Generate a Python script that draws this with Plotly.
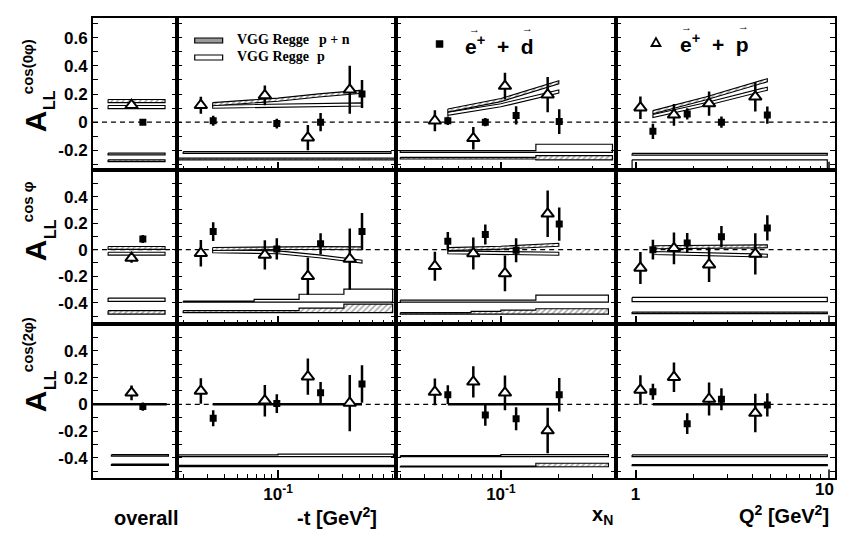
import plotly.graph_objects as go
from plotly.subplots import make_subplots

# ---------------- kinematic bin centres ----------------
t_p = [0.027, 0.080, 0.166, 0.338]      # -t [GeV^2], proton (open triangles)
t_d = [0.0333, 0.098, 0.206, 0.416]     # -t [GeV^2], deuteron (filled squares)
xn_p = [0.0454, 0.0719, 0.105, 0.175]
xn_d = [0.053, 0.083, 0.120, 0.201]
q2_p = [1.06, 1.58, 2.40, 4.16]
q2_d = [1.23, 1.85, 2.78, 4.80]

# ---------------- A_LL^cos(0phi) ----------------
c0_all_p, c0_all_p_err = 0.12, 0.02
c0_all_d, c0_all_d_err = 0.00, 0.015
c0_t_p = [0.12, 0.19, -0.11, 0.23]
c0_t_p_err = [0.06, 0.07, 0.09, 0.17]
c0_t_d = [0.01, -0.01, 0.00, 0.20]
c0_t_d_err = [0.035, 0.035, 0.065, 0.10]
c0_xn_p = [0.01, -0.115, 0.256, 0.195]
c0_xn_p_err = [0.075, 0.08, 0.095, 0.125]
c0_xn_d = [0.01, 0.0, 0.048, 0.004]
c0_xn_d_err = [0.03, 0.03, 0.065, 0.088]
c0_q2_p = [0.103, 0.052, 0.132, 0.18]
c0_q2_p_err = [0.08, 0.077, 0.086, 0.105]
c0_q2_d = [-0.065, 0.058, 0.0, 0.05]
c0_q2_d_err = [0.054, 0.04, 0.04, 0.062]

# ---------------- A_LL^cos(phi) ----------------
c1_all_p, c1_all_p_err = -0.063, 0.035
c1_all_d, c1_all_d_err = 0.08, 0.03
c1_t_p = [-0.027, -0.04, -0.20, -0.07]
c1_t_p_err = [0.10, 0.11, 0.14, 0.23]
c1_t_d = [0.136, 0.005, 0.044, 0.137]
c1_t_d_err = [0.07, 0.08, 0.08, 0.14]
c1_xn_p = [-0.125, -0.029, -0.179, 0.27]
c1_xn_p_err = [0.11, 0.12, 0.135, 0.175]
c1_xn_d = [0.063, 0.114, -0.004, 0.193]
c1_xn_d_err = [0.07, 0.075, 0.09, 0.125]
c1_q2_p = [-0.138, 0.01, -0.113, -0.032]
c1_q2_p_err = [0.12, 0.12, 0.13, 0.155]
c1_q2_d = [0.0, 0.051, 0.098, 0.164]
c1_q2_d_err = [0.075, 0.075, 0.08, 0.095]

# ---------------- A_LL^cos(2phi) ----------------
c2_all_p, c2_all_p_err = 0.086, 0.055
c2_all_d, c2_all_d_err = -0.017, 0.03
c2_t_p = [0.10, 0.027, 0.207, 0.01]
c2_t_p_err = [0.095, 0.117, 0.135, 0.21]
c2_t_d = [-0.104, 0.006, 0.087, 0.152]
c2_t_d_err = [0.06, 0.07, 0.08, 0.14]
c2_xn_p = [0.093, 0.168, 0.086, -0.196]
c2_xn_p_err = [0.10, 0.116, 0.13, 0.17]
c2_xn_d = [0.072, -0.08, -0.108, 0.072]
c2_xn_d_err = [0.07, 0.08, 0.086, 0.125]
c2_q2_p = [0.108, 0.203, 0.04, -0.065]
c2_q2_p_err = [0.11, 0.11, 0.123, 0.144]
c2_q2_d = [0.094, -0.144, 0.038, -0.004]
c2_q2_d_err = [0.06, 0.078, 0.083, 0.086]

# ---------------- VGG Regge model curves ----------------
vgg_x_all = [0.18, 0.86]
vgg_x_all_line = [0.0, 0.88]
vgg_x_t = [0.033, 0.1, 0.2, 0.416]
vgg_x_xn = [0.053, 0.1, 0.2]
vgg_x_q2 = [1.23, 2.3, 4.8]
vgg_c0_all_pn = [0.15, 0.15]
vgg_c0_all_p = [0.107, 0.107]
vgg_c0_t_pn = [0.128, 0.16, 0.19, 0.216]
vgg_c0_t_p = [0.11, 0.117, 0.122, 0.126]
vgg_c0_xn_pn = [0.083, 0.157, 0.283]
vgg_c0_xn_p = [0.059, 0.12, 0.218]
vgg_c0_q2_pn = [0.071, 0.168, 0.298]
vgg_c0_q2_p = [0.043, 0.127, 0.238]
vgg_c1_all_pn = [0.013, 0.013]
vgg_c1_all_p = [-0.03, -0.03]
vgg_c1_t_pn = [0.005, 0.012, 0.012, 0.01]
vgg_c1_t_p = [-0.012, -0.02, -0.05, -0.09]
vgg_c1_xn_pn = [0.004, 0.015, 0.037]
vgg_c1_xn_p = [-0.02, -0.027, -0.031]
vgg_c1_q2_pn = [0.018, 0.02, 0.025]
vgg_c1_q2_p = [-0.025, -0.035, -0.045]
vgg_c2_all = [0.0, 0.0]
vgg_c2_t = [0.0, 0.0, 0.0, 0.0]
vgg_c2_xn = [0.0, 0.0, 0.0]
vgg_c2_q2 = [0.0, 0.0, 0.0]

# ---------------- systematic bands: (bin edges, lower, upper) ----------------
sys_c0_all_p = ([0.18, 0.86], [-0.232], [-0.220])
sys_c0_all_d = ([0.18, 0.86], [-0.280], [-0.268])
sys_c0_t_p = ([0.02, 0.68], [-0.222], [-0.210])
sys_c0_t_d = ([0.0185, 0.76], [-0.268], [-0.256])
sys_c0_xn_p = ([0.03, 0.152, 0.38], [-0.215, -0.215], [-0.203, -0.157])
sys_c0_xn_d = ([0.03, 0.152, 0.38], [-0.262, -0.268], [-0.250, -0.238])
sys_c0_q2_p = ([0.96, 9.8], [-0.234], [-0.222])
sys_c0_q2_d = ([0.96, 9.8], [-0.335], [-0.268])
sys_c1_all_p = ([0.18, 0.86], [-0.39], [-0.365])
sys_c1_all_d = ([0.18, 0.86], [-0.485], [-0.46])
sys_c1_t_p = ([0.02, 0.0667, 0.143, 0.306, 0.70], [-0.395, -0.395, -0.395, -0.395],
              [-0.388, -0.375, -0.336, -0.298])
sys_c1_t_d = ([0.02, 0.143, 0.306, 0.70], [-0.475, -0.475, -0.475], [-0.46, -0.44, -0.41])
sys_c1_xn_p = ([0.03, 0.152, 0.362], [-0.395, -0.395], [-0.38, -0.343])
sys_c1_xn_d = ([0.03, 0.07, 0.1, 0.152, 0.362], [-0.485, -0.485, -0.485, -0.485],
               [-0.475, -0.465, -0.455, -0.445])
sys_c1_q2_p = ([0.96, 9.8], [-0.392], [-0.36])
sys_c1_q2_d = ([0.96, 9.8], [-0.482], [-0.470])
sys_c2_all_p = ([0.22, 0.9], [-0.386], [-0.376])
sys_c2_all_d = ([0.22, 0.9], [-0.456], [-0.446])
sys_c2_t_p = ([0.0185, 0.1, 0.71], [-0.39, -0.39], [-0.378, -0.372])
sys_c2_t_d = ([0.0185, 0.71], [-0.465], [-0.455])
sys_c2_xn_p = ([0.03, 0.1, 0.362], [-0.39, -0.39], [-0.383, -0.375])
sys_c2_xn_d = ([0.03, 0.152, 0.362], [-0.468, -0.465], [-0.462, -0.44])
sys_c2_q2_p = ([0.96, 9.8], [-0.39], [-0.378])
sys_c2_q2_d = ([0.96, 9.8], [-0.458], [-0.45])

# ---------------- labels ----------------
row_titles = ["cos(0\u03c6)", "cos \u03c6", "cos(2\u03c6)"]
y_ticks = [[-0.2, 0, 0.2, 0.4, 0.6], [-0.4, -0.2, 0, 0.2, 0.4], [-0.4, -0.2, 0, 0.2, 0.4]]

# ---------------- layout constants (style) ----------------
OFF = 8                      # default page margin of the html body
W, H = 846 - 2 * OFF, 537 - 2 * OFF
OX_P, OX_D = 0.46, 0.595
BAND_HW = 0.011
L, R, T, B = 93, 837, 18, 478          # plot frame in window pixels
FONT = "Liberation Sans"
OPEN_D_SYS = {(1, 4)}

fig = make_subplots(rows=3, cols=4, column_widths=[84, 220, 220, 220],
                    row_heights=[152, 154, 154], horizontal_spacing=0, vertical_spacing=0)

points = {
    (1, 1): ([OX_P], [c0_all_p], [c0_all_p_err], [OX_D], [c0_all_d], [c0_all_d_err]),
    (1, 2): (t_p, c0_t_p, c0_t_p_err, t_d, c0_t_d, c0_t_d_err),
    (1, 3): (xn_p, c0_xn_p, c0_xn_p_err, xn_d, c0_xn_d, c0_xn_d_err),
    (1, 4): (q2_p, c0_q2_p, c0_q2_p_err, q2_d, c0_q2_d, c0_q2_d_err),
    (2, 1): ([OX_P], [c1_all_p], [c1_all_p_err], [OX_D], [c1_all_d], [c1_all_d_err]),
    (2, 2): (t_p, c1_t_p, c1_t_p_err, t_d, c1_t_d, c1_t_d_err),
    (2, 3): (xn_p, c1_xn_p, c1_xn_p_err, xn_d, c1_xn_d, c1_xn_d_err),
    (2, 4): (q2_p, c1_q2_p, c1_q2_p_err, q2_d, c1_q2_d, c1_q2_d_err),
    (3, 1): ([OX_P], [c2_all_p], [c2_all_p_err], [OX_D], [c2_all_d], [c2_all_d_err]),
    (3, 2): (t_p, c2_t_p, c2_t_p_err, t_d, c2_t_d, c2_t_d_err),
    (3, 3): (xn_p, c2_xn_p, c2_xn_p_err, xn_d, c2_xn_d, c2_xn_d_err),
    (3, 4): (q2_p, c2_q2_p, c2_q2_p_err, q2_d, c2_q2_d, c2_q2_d_err),
}
bands = {
    (1, 1): (vgg_x_all, vgg_c0_all_pn, vgg_c0_all_p),
    (1, 2): (vgg_x_t, vgg_c0_t_pn, vgg_c0_t_p),
    (1, 3): (vgg_x_xn, vgg_c0_xn_pn, vgg_c0_xn_p),
    (1, 4): (vgg_x_q2, vgg_c0_q2_pn, vgg_c0_q2_p),
    (2, 1): (vgg_x_all, vgg_c1_all_pn, vgg_c1_all_p),
    (2, 2): (vgg_x_t, vgg_c1_t_pn, vgg_c1_t_p),
    (2, 3): (vgg_x_xn, vgg_c1_xn_pn, vgg_c1_xn_p),
    (2, 4): (vgg_x_q2, vgg_c1_q2_pn, vgg_c1_q2_p),
}
lines = {
    (3, 1): (vgg_x_all_line, vgg_c2_all),
    (3, 2): (vgg_x_t, vgg_c2_t),
    (3, 3): (vgg_x_xn, vgg_c2_xn),
    (3, 4): (vgg_x_q2, vgg_c2_q2),
}
systs = {
    (1, 1): (sys_c0_all_p, sys_c0_all_d), (1, 2): (sys_c0_t_p, sys_c0_t_d),
    (1, 3): (sys_c0_xn_p, sys_c0_xn_d), (1, 4): (sys_c0_q2_p, sys_c0_q2_d),
    (2, 1): (sys_c1_all_p, sys_c1_all_d), (2, 2): (sys_c1_t_p, sys_c1_t_d),
    (2, 3): (sys_c1_xn_p, sys_c1_xn_d), (2, 4): (sys_c1_q2_p, sys_c1_q2_d),
    (3, 1): (sys_c2_all_p, sys_c2_all_d), (3, 2): (sys_c2_t_p, sys_c2_t_d),
    (3, 3): (sys_c2_xn_p, sys_c2_xn_d), (3, 4): (sys_c2_q2_p, sys_c2_q2_d),
}

HATCH = dict(shape="/", fgcolor="#333333", bgcolor="white", size=4, solidity=0.35)


def step_poly(edges, lo, hi):
    xs, ys = [], []
    for i in range(len(lo)):
        xs += [edges[i], edges[i + 1]]
        ys += [hi[i], hi[i]]
    for i in reversed(range(len(lo))):
        xs += [edges[i + 1], edges[i]]
        ys += [lo[i], lo[i]]
    return xs + [xs[0]], ys + [ys[0]]


def band_poly(x, c):
    xs = list(x) + list(x)[::-1] + [x[0]]
    ys = [v + BAND_HW for v in c] + [v - BAND_HW for v in c][::-1] + [c[0] + BAND_HW]
    return xs, ys


for (r, c), (sp, sd) in systs.items():
    xs, ys = step_poly(*sp)
    fig.add_trace(go.Scatter(x=xs, y=ys, mode="lines", fill="toself", fillcolor="white",
                             line=dict(color="black", width=1.2), hoverinfo="skip"), row=r, col=c)
    xs, ys = step_poly(*sd)
    fill_kw = dict(fillcolor="white") if (r, c) in OPEN_D_SYS else dict(fillpattern=HATCH)
    fig.add_trace(go.Scatter(x=xs, y=ys, mode="lines", fill="toself",
                             line=dict(color="black", width=1.2), hoverinfo="skip", **fill_kw),
                  row=r, col=c)

for (r, c), (bx, bpn, bp) in bands.items():
    xs, ys = band_poly(bx, bp)
    fig.add_trace(go.Scatter(x=xs, y=ys, mode="lines", fill="toself", fillcolor="white",
                             line=dict(color="black", width=1.1), hoverinfo="skip"), row=r, col=c)
    xs, ys = band_poly(bx, bpn)
    fig.add_trace(go.Scatter(x=xs, y=ys, mode="lines", fill="toself", fillpattern=HATCH,
                             line=dict(color="black", width=1.1), hoverinfo="skip"), row=r, col=c)

for (r, c), (lx, ly) in lines.items():
    fig.add_trace(go.Scatter(x=lx, y=ly, mode="lines", line=dict(color="black", width=2.5),
                             hoverinfo="skip"), row=r, col=c)

for (r, c), (xp, yp, ep, xd, yd, ed) in points.items():
    fig.add_trace(go.Scatter(x=xd, y=yd, mode="markers",
                             marker=dict(symbol="square", size=7, color="black"),
                             error_y=dict(type="data", array=ed, color="black", thickness=2.5, width=0)),
                  row=r, col=c)
    fig.add_trace(go.Scatter(x=xp, y=yp, mode="markers",
                             marker=dict(symbol="triangle-up", size=11, color="white",
                                         line=dict(color="black", width=2)),
                             error_y=dict(type="data", array=ep, color="black", thickness=2.5, width=0)),
                  row=r, col=c)

# ---------------- axes ----------------
xranges = [[0, 1], [-1.746, -0.129], [-1.544, -0.404], [-0.103, 1.031]]
yranges = [[-0.34, 0.74], [-0.56, 0.60], [-0.55, 0.60]]
x_major = [None, [0.1], [0.1], [1]]
x_major_txt = [None, ["10<sup>-1</sup>"], ["10<sup>-1</sup>"], ["1"]]
x_minor = [None,
           [0.02, 0.03, 0.04, 0.05, 0.06, 0.07, 0.08, 0.09, 0.2, 0.3, 0.4, 0.5, 0.6, 0.7],
           [0.03, 0.04, 0.05, 0.06, 0.07, 0.08, 0.09, 0.2, 0.3],
           [2, 3, 4, 5, 6, 7, 8, 9]]
q2_last_tick = 10
tickfont = dict(family=FONT, size=17, color="black", weight="bold")

shapes = []
for r in range(1, 4):
    lo, hi = yranges[r - 1]
    yminor = [v / 10 for v in range(-6, 8) if lo < v / 10 < hi and (v / 10) not in y_ticks[r - 1]]
    for c in range(1, 5):
        n = (r - 1) * 4 + c
        xa = "xaxis" + ("" if n == 1 else str(n))
        ya = "yaxis" + ("" if n == 1 else str(n))
        xr = "x" + ("" if n == 1 else str(n))
        yr = "y" + ("" if n == 1 else str(n))
        common = dict(showline=True, linecolor="black", linewidth=2, showgrid=False, zeroline=False)
        if c == 1:
            fig.layout[xa].update(range=xranges[0], ticks="", showticklabels=False, mirror=True, **common)
        else:
            fig.layout[xa].update(type="log", range=xranges[c - 1], mirror=True, ticks="inside",
                                  ticklen=8, tickwidth=1.5, tickcolor="black",
                                  tickvals=x_major[c - 1], ticktext=x_major_txt[c - 1],
                                  showticklabels=(r == 3), tickfont=tickfont,
                                  minor=dict(tickvals=x_minor[c - 1], ticks="inside", ticklen=4,
                                             tickwidth=1.3, tickcolor="black"),
                                  **common)
        fig.layout[ya].update(range=yranges[r - 1], mirror="allticks", ticks="inside", ticklen=5,
                              tickwidth=1.3, tickcolor="black", tickvals=y_ticks[r - 1],
                              ticktext=[f"{v:g}" for v in y_ticks[r - 1]],
                              showticklabels=(c == 1), tickfont=tickfont,
                              minor=dict(tickvals=yminor, ticks="inside", ticklen=5,
                                         tickwidth=1.3, tickcolor="black"),
                              **common)
        shapes.append(dict(type="line", xref=f"{xr} domain", yref=yr, x0=0, x1=1, y0=0, y1=0,
                           line=dict(color="black", width=1.3, dash="5px,4px"), layer="below"))
        if c == 4:
            # major tick at Q^2 = 10 (drawn as a short segment from the bottom axis)
            shapes.append(dict(type="line", xref=xr, yref=f"{yr} domain", x0=q2_last_tick,
                               x1=q2_last_tick, y0=0, y1=0.055, line=dict(color="black", width=1.5)))


def px(x):
    return (x - L) / (R - L)


def py(y):
    return (B - y) / (B - T)


ann = []


def text(x, y, s, size, angle=0, family=FONT, weight="bold"):
    ann.append(dict(x=px(x), y=py(y), xref="paper", yref="paper", text=s, showarrow=False,
                    xanchor="center", yanchor="middle", textangle=angle,
                    font=dict(family=family, size=size, color="black", weight=weight)))


# y-axis titles  A_LL^{...}
title_pos = [(121, 100, 67), (250, 229, 202), (401, 380, 345)]
for (ya, yl, ys), s in zip(title_pos, row_titles):
    text(35, ya, "A", 30, -90)
    text(50, yl, "LL", 16, -90)
    text(27, ys, s, 15, -90)

# "10" label of the Q^2 axis (kept inside the page edge)
ann.append(dict(x=1, xref="x12", y=py(489), yref="paper", text="10", showarrow=False,
                xanchor="center", yanchor="middle", xshift=-5, font=tickfont))

# bottom labels
text(146, 518, "overall", 20)
text(338, 516, "-t [GeV<sup>2</sup>]", 20)
text(604, 515, "x<sub>N</sub>", 20)
text(786, 514, "Q<sup>2</sup> [GeV<sup>2</sup>]", 20)

# target labels
NB = "\u00a0"
text(501, 45, f"e<sup>+</sup>{NB}{NB}+{NB}{NB}d", 21)
text(476, 29, "\u2192", 11, weight="normal")
text(529, 28, "\u2192", 11, weight="normal")
text(716, 43, f"e<sup>+</sup>{NB}{NB}+{NB}{NB}p", 21)
text(688, 27, "\u2192", 11, weight="normal")
text(745, 26, "\u2192", 11, weight="normal")

# legend text
text(273, 40, "VGG Regge", 14, family="Liberation Serif")
text(335, 40, "p + n", 14, family="Liberation Serif")
text(273, 57, "VGG Regge", 14, family="Liberation Serif")
text(322, 57, "p", 14, family="Liberation Serif")

# legend swatches & marker keys (paper coordinates)
shapes.append(dict(type="rect", xref="paper", yref="paper", x0=px(195), x1=px(223), y0=py(43), y1=py(38),
                   fillcolor="#9a9a9a", line=dict(color="black", width=1.2)))
shapes.append(dict(type="rect", xref="paper", yref="paper", x0=px(195), x1=px(223), y0=py(60), y1=py(55),
                   fillcolor="white", line=dict(color="black", width=1.2)))
shapes.append(dict(type="rect", xref="paper", yref="paper", x0=px(437), x1=px(444), y0=py(47.5), y1=py(40.5),
                   fillcolor="black", line=dict(color="black", width=0.5)))
shapes.append(dict(type="path", xref="paper", yref="paper",
                   path=f"M {px(653)},{py(46)} L {px(662)},{py(46)} L {px(657.5)},{py(38)} Z",
                   fillcolor="white", line=dict(color="black", width=1.8)))

fig.update_layout(width=W, height=H,
                  margin=dict(l=L - OFF, r=(OFF + W) - R, t=T - OFF, b=(OFF + H) - B),
                  plot_bgcolor="white", paper_bgcolor="white", showlegend=False,
                  shapes=shapes, annotations=ann)

fig.write_html("out.html")
